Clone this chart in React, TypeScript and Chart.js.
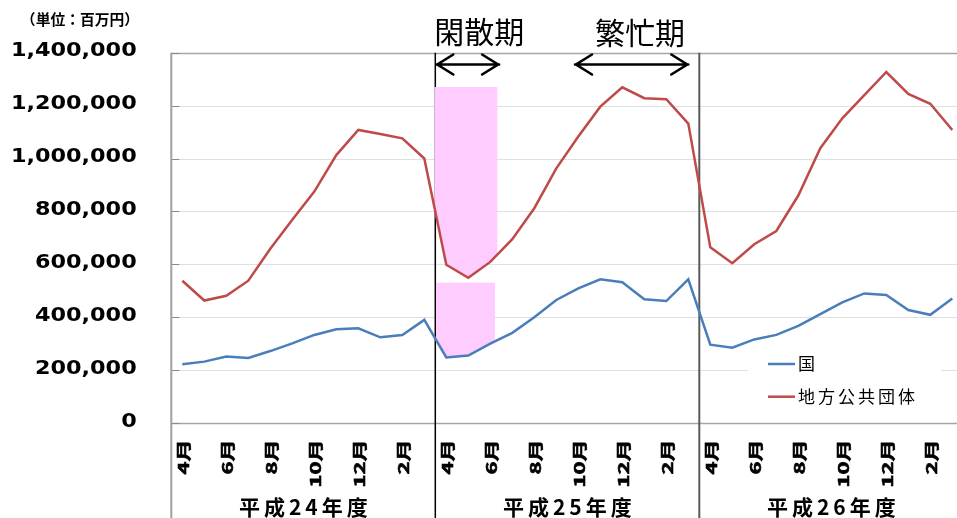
import React, { useEffect, useRef } from 'react';
import { Chart, registerables } from 'chart.js';

Chart.register(...registerables);

const CANVAS_W = 970;
const CANVAS_H = 518;

// 会計年度と月
const fiscalYears = ['平成24年度', '平成25年度', '平成26年度'];
const monthNames = ['4月', '5月', '6月', '7月', '8月', '9月', '10月', '11月', '12月', '1月', '2月', '3月'];
const categories = fiscalYears.flatMap(() => monthNames);

// 国（百万円）
const kuni = [
  222000, 232000, 251000, 246000, 272000, 301000, 333000, 354000, 358000, 324000, 333000, 390000,
  248000, 255000, 300000, 341000, 400000, 465000, 509000, 543000, 532000, 468000, 461000, 543000,
  296000, 285000, 316000, 333000, 367000, 412000, 456000, 490000, 484000, 427000, 409000, 471000,
];

// 地方公共団体（百万円）
const chihou = [
  538000, 463000, 481000, 538000, 659000, 768000, 875000, 1013000, 1108000, 1093000, 1076000, 1000000,
  598000, 549000, 609000, 695000, 812000, 963000, 1083000, 1196000, 1269000, 1228000, 1224000, 1132000,
  664000, 604000, 676000, 726000, 860000, 1039000, 1152000, 1240000, 1327000, 1244000, 1207000, 1108000,
];

const yTicks = [0, 200000, 400000, 600000, 800000, 1000000, 1200000, 1400000];
const unitLabel = '（単位：百万円）';
const offPeakLabel = '閑散期';
const busyLabel = '繁忙期';

// 閑散期・繁忙期の範囲（カテゴリ位置）
const offPeakSpan = [11.5, 14.4];
const busySpan = [17.85, 23.0];
// 閑散期の強調帯（上端の値と右端のカテゴリ位置）
const bandChihou = { from: 11.46, to: 14.32, top: 1270000 };
const bandKuni = { from: 11.53, to: 14.21, top: 530000 };

const JP = '"Noto Sans CJK JP", "Noto Sans", sans-serif';

function drawArrow(ctx: CanvasRenderingContext2D, x0: number, x1: number, yy: number) {
  ctx.save();
  ctx.strokeStyle = '#000';
  ctx.lineWidth = 2.6;
  ctx.lineCap = 'round';
  ctx.lineJoin = 'miter';
  ctx.beginPath();
  ctx.moveTo(x0, yy);
  ctx.lineTo(x1, yy);
  ctx.moveTo(x0 + 17, yy - 10);
  ctx.lineTo(x0 + 1, yy);
  ctx.lineTo(x0 + 17, yy + 10);
  ctx.moveTo(x1 - 17, yy - 10);
  ctx.lineTo(x1 - 1, yy);
  ctx.lineTo(x1 - 17, yy + 10);
  ctx.stroke();
  ctx.restore();
}

function fillBand(chart: any, datasetIndex: number, band: { from: number; to: number; top: number }) {
  const { ctx, scales } = chart;
  const x = scales.x;
  const y = scales.y;
  const pts = chart.getDatasetMeta(datasetIndex).data;
  const xl = x.getPixelForValue(band.from);
  const xr = x.getPixelForValue(band.to);
  const top = y.getPixelForValue(band.top);
  ctx.save();
  ctx.beginPath();
  ctx.rect(xl, 0, xr - xl, chart.height);
  ctx.clip();
  ctx.beginPath();
  ctx.moveTo(xl - 40, top);
  ctx.lineTo(xr + 40, top);
  const i0 = Math.max(0, Math.floor(band.from) - 2);
  const i1 = Math.min(pts.length - 1, Math.ceil(band.to) + 2);
  for (let i = i1; i >= i0; i--) ctx.lineTo(pts[i].x, pts[i].y);
  ctx.closePath();
  ctx.fillStyle = '#ffccff';
  ctx.fill();
  ctx.restore();
}

const framePlugin = {
  id: 'frame',
  beforeDatasetsDraw(chart: any) {
    const { ctx, chartArea, scales } = chart;
    const x = scales.x;
    const y = scales.y;
    ctx.save();
    // 目盛線
    yTicks.forEach((v) => {
      const py = Math.round(y.getPixelForValue(v)) + 0.5;
      const edge = v === 0 || v === yTicks[yTicks.length - 1];
      ctx.beginPath();
      ctx.moveTo(chartArea.left, py);
      ctx.lineTo(chartArea.right, py);
      ctx.lineWidth = edge ? 1.5 : 1;
      ctx.strokeStyle = edge ? '#a6a6a6' : '#e0e0e0';
      ctx.stroke();
      // 内向きの目盛
      ctx.beginPath();
      ctx.moveTo(chartArea.left, py);
      ctx.lineTo(chartArea.left + 8, py);
      ctx.strokeStyle = '#8a8a8a';
      ctx.lineWidth = 1;
      ctx.stroke();
    });
    // 縦軸と年度の区切り
    const leftX = x.getPixelForValue(-0.5);
    ctx.beginPath();
    ctx.moveTo(leftX, chartArea.top);
    ctx.lineTo(leftX, chart.height);
    ctx.strokeStyle = '#a0a0a0';
    ctx.lineWidth = 2;
    ctx.stroke();

    const d1 = x.getPixelForValue(11.5);
    ctx.beginPath();
    ctx.moveTo(d1, chartArea.top);
    ctx.lineTo(d1, chart.height);
    ctx.strokeStyle = '#000';
    ctx.lineWidth = 1.5;
    ctx.stroke();

    const d2 = x.getPixelForValue(23.5);
    ctx.beginPath();
    ctx.moveTo(d2, chartArea.top);
    ctx.lineTo(d2, chart.height);
    ctx.strokeStyle = '#5a5a5a';
    ctx.lineWidth = 2;
    ctx.stroke();
    ctx.restore();

    // 閑散期の強調帯
    fillBand(chart, 1, bandChihou);
    fillBand(chart, 0, bandKuni);
  },
  afterDraw(chart: any) {
    const { ctx, chartArea, scales } = chart;
    const x = scales.x;
    const y = scales.y;
    ctx.save();
    ctx.fillStyle = '#000';
    ctx.strokeStyle = '#000';

    // 縦軸ラベル
    ctx.font = 'bold 19.6px "DejaVu Sans", sans-serif';
    ctx.textAlign = 'right';
    ctx.textBaseline = 'alphabetic';
    yTicks.forEach((v) => {
      const py = y.getPixelForValue(v);
      ctx.save();
      ctx.translate(chartArea.left - 34.6, py + 3.5);
      ctx.scale(1.14, 1);
      ctx.fillText(v.toLocaleString('en-US'), 0, 0);
      ctx.restore();
    });

    // 単位
    ctx.save();
    ctx.font = `bold 14.5px ${JP}`;
    ctx.textAlign = 'center';
    ctx.textBaseline = 'middle';
    ctx.translate(80, 19.5);
    ctx.scale(1.02, 1);
    ctx.fillText(unitLabel, 0, 0);
    ctx.restore();

    // 月ラベル（回転）
    ctx.font = `bold 22px ${JP}`;
    ctx.textAlign = 'right';
    ctx.textBaseline = 'middle';
    ctx.lineWidth = 0.9;
    categories.forEach((label, i) => {
      if (i % 2 !== 0) return;
      const px = x.getPixelForValue(i);
      ctx.save();
      ctx.translate(px + 1.5, chartArea.bottom + 16.5);
      ctx.rotate(-Math.PI / 2);
      ctx.scale(1, 0.68);
      ctx.fillText(label, 0, 0);
      ctx.strokeText(label, 0, 0);
      ctx.restore();
    });

    // 年度ラベル
    ctx.font = `bold 21px ${JP}`;
    ctx.textAlign = 'left';
    ctx.textBaseline = 'middle';
    (ctx as any).letterSpacing = '4px';
    fiscalYears.forEach((fy, k) => {
      const cx = (x.getPixelForValue(k * 12 - 0.5) + x.getPixelForValue(k * 12 + 11.5)) / 2;
      const w = ctx.measureText(fy).width - 4;
      ctx.fillText(fy, cx - w / 2, 507.5);
    });
    (ctx as any).letterSpacing = '0px';

    // 閑散期・繁忙期
    ctx.font = `30px ${JP}`;
    ctx.textAlign = 'left';
    ctx.textBaseline = 'middle';
    ctx.fillText(offPeakLabel, x.getPixelForValue(offPeakSpan[0]) - 1, 32);
    ctx.fillText(busyLabel, 595, 32.5);
    drawArrow(ctx, x.getPixelForValue(offPeakSpan[0]) + 1, x.getPixelForValue(offPeakSpan[1]), 64.5);
    drawArrow(ctx, x.getPixelForValue(busySpan[0]), x.getPixelForValue(busySpan[1]), 64.5);

    // 凡例
    ctx.fillStyle = '#fff';
    ctx.fillRect(748, 343, 193, 75);
    ctx.font = `17px ${JP}`;
    ctx.textAlign = 'left';
    ctx.textBaseline = 'middle';
    (ctx as any).letterSpacing = '3px';
    chart.data.datasets.forEach((ds: any, k: number) => {
      const ly = 364 + k * 32.7;
      ctx.beginPath();
      ctx.moveTo(768, ly);
      ctx.lineTo(795, ly);
      ctx.strokeStyle = ds.borderColor;
      ctx.lineWidth = 2.5;
      ctx.stroke();
      ctx.fillStyle = '#000';
      ctx.fillText(ds.label, 798, ly);
    });
    (ctx as any).letterSpacing = '0px';
    ctx.restore();
  },
};

export default function App() {
  const canvasRef = useRef<HTMLCanvasElement | null>(null);

  useEffect(() => {
    const canvas = canvasRef.current;
    if (!canvas) return;
    const chart = new Chart(canvas, {
      type: 'line',
      data: {
        labels: categories,
        datasets: [
          {
            label: '国',
            data: kuni,
            borderColor: '#4a7ebb',
            borderWidth: 2.5,
            pointRadius: 0,
            tension: 0,
            fill: false,
          },
          {
            label: '地方公共団体',
            data: chihou,
            borderColor: '#be4b48',
            borderWidth: 2.5,
            pointRadius: 0,
            tension: 0,
            fill: false,
          },
        ],
      },
      options: {
        animation: false,
        responsive: false,
        maintainAspectRatio: false,
        devicePixelRatio: 1,
        layout: { padding: { left: 171.3, right: CANVAS_W - 963.3, top: 52.7, bottom: CANVAS_H - 423 } },
        scales: {
          x: { type: 'category', display: false, offset: true },
          y: { display: false, min: 0, max: 1400000 },
        },
        plugins: { legend: { display: false }, tooltip: { enabled: false } },
      },
      plugins: [framePlugin],
    });
    return () => chart.destroy();
  }, []);

  return (
    <div
      style={{
        position: 'fixed',
        left: 0,
        top: 0,
        width: 957,
        height: 518,
        overflow: 'hidden',
        background: '#fff',
      }}
    >
      <canvas ref={canvasRef} width={CANVAS_W} height={CANVAS_H} style={{ display: 'block' }} />
    </div>
  );
}
